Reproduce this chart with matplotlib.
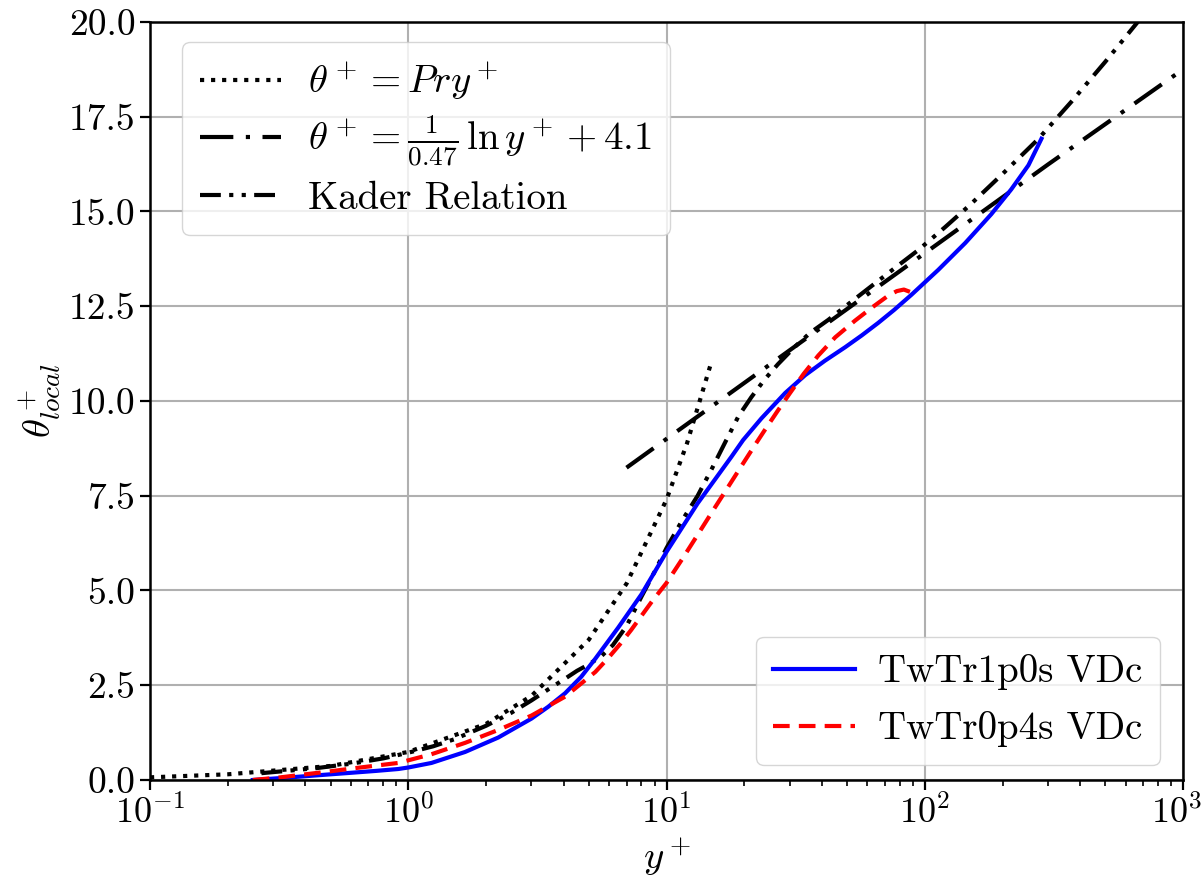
import matplotlib
matplotlib.use("Agg")
import matplotlib.pyplot as plt
import matplotlib.transforms as mtransforms

plt.rcParams['font.family'] = ['serif']
plt.rcParams['font.serif'] = ['cmr10', 'DejaVu Serif']
plt.rcParams['mathtext.fontset'] = 'cm'
plt.rcParams['axes.formatter.use_mathtext'] = True
plt.rcParams['axes.unicode_minus'] = False

# Pr y+ (linear sublayer)
lin_y = [0.1, 0.2, 0.5, 1.0, 2.0, 3.0, 5.0, 7.0, 10.0, 12.0, 14.8]
lin_t = [0.07, 0.15, 0.37, 0.74, 1.48, 2.22, 3.7, 5.18, 7.4, 8.88, 10.95]

# log law
log_y = [7.0, 10.0, 30.0, 100.0, 300.0, 1000.0]
log_t = [8.24, 9.0, 11.34, 13.9, 16.24, 18.75]

# Kader relation
kad_y = [0.27, 0.35, 0.45, 0.6, 0.8, 1.0, 1.25, 1.5, 2.0, 2.5, 3.0, 3.5, 4.0,
         4.5, 5.0, 5.6, 6.2, 7.0, 8.0, 9.0, 10.0, 11.5, 13.2, 15.0, 16.9,
         19.0, 21.3, 24.0, 27.0, 31.4, 36.0, 42.3, 50.0, 60.0, 74.3, 94.3,
         120.0, 150.0, 200.0, 274.0, 370.0, 500.0, 653.0, 700.0]
kad_t = [0.18, 0.25, 0.32, 0.43, 0.57, 0.72, 0.89, 1.07, 1.43, 1.77, 2.1,
         2.4, 2.65, 2.88, 3.05, 3.27, 3.56, 4.06, 4.84, 5.5, 6.12, 6.85, 7.5,
         8.22, 8.92, 9.6, 10.1, 10.57, 10.97, 11.43, 11.8, 12.14, 12.53, 12.95,
         13.44, 13.98, 14.59, 15.18, 15.99, 16.9, 17.9, 18.95, 19.92, 20.17]

# TwTr1p0s VDc
blue_y = [0.25, 0.32, 0.4, 0.5, 0.6, 0.75, 0.915, 1.0, 1.23, 1.66, 2.23, 3.0,
          3.48, 4.05, 4.67, 5.3, 6.5, 8.0, 10.0, 13.2, 17.8, 19.8, 23.3, 28.8,
          34.4, 41.0, 49.2, 57.0, 66.0, 76.0, 88.7, 112.8, 143.5, 181.0,
          216.0, 252.0, 283.0]
blue_t = [0.0, 0.05, 0.1, 0.15, 0.19, 0.24, 0.29, 0.33, 0.45, 0.74, 1.12,
          1.62, 1.93, 2.29, 2.72, 3.2, 4.02, 4.9, 6.02, 7.3, 8.52, 8.97, 9.54,
          10.21, 10.68, 11.06, 11.42, 11.73, 12.06, 12.4, 12.8, 13.46, 14.17,
          14.93, 15.58, 16.22, 16.92]

# TwTr0p4s VDc
red_y = [0.25, 0.32, 0.4, 0.5, 0.6, 0.75, 0.915, 1.23, 1.66, 2.23, 3.0, 4.05,
         5.3, 5.95, 6.6, 7.3, 7.8, 8.8, 10.0, 11.5, 13.2, 15.2, 17.8, 20.0,
         22.3, 24.0, 27.0, 30.0, 34.0, 38.7, 45.0, 53.7, 62.0, 72.2, 78.0,
         83.0, 87.6]
red_t = [0.0, 0.07, 0.15, 0.23, 0.3, 0.38, 0.45, 0.68, 0.98, 1.32, 1.7, 2.2,
         2.85, 3.22, 3.58, 3.96, 4.23, 4.72, 5.2, 5.83, 6.47, 7.13, 7.86, 8.4,
         8.9, 9.23, 9.75, 10.2, 10.72, 11.2, 11.68, 12.12, 12.45, 12.78, 12.9,
         12.94, 12.88]

fig = plt.figure(figsize=(12.03, 8.9), dpi=100)
ax = fig.add_axes([0.1247, 0.1236, 0.8587, 0.8517])

lw = 3.0
l1, = ax.plot(lin_y, lin_t, color='black', linestyle=':', lw=lw, label=r'$\theta^+ = Pry^+$')
l2, = ax.plot(log_y, log_t, color='black', lw=lw, dashes=(8, 3, 1, 3),
              label=r'$\theta^+ = \frac{1}{0.47}\,\ln y^+ + 4.1$')
l3, = ax.plot(kad_y, kad_t, color='black', lw=lw, dashes=(5, 2, 1, 2, 1, 2),
              label='Kader Relation')
b1, = ax.plot(blue_y, blue_t, color='blue', lw=lw, label='TwTr1p0s VDc')
r1, = ax.plot(red_y, red_t, color='red', lw=lw, linestyle=(0, (4, 2.2)), label='TwTr0p4s VDc')

ax.set_xscale('log')
ax.set_xlim(0.1, 1000)
ax.set_ylim(0, 20)
ax.set_yticks([0, 2.5, 5, 7.5, 10, 12.5, 15, 17.5, 20])
ax.set_yticklabels(['0.0', '2.5', '5.0', '7.5', '10.0', '12.5', '15.0', '17.5', '20.0'])
ax.grid(True, which='major', color='#b0b0b0', lw=1.5)
ax.tick_params(axis='y', which='major', labelsize=27)
ax.tick_params(axis='x', which='major', labelsize=26)
ax.tick_params(axis='both', which='major', length=7, width=1.6)
ax.tick_params(axis='both', which='minor', length=4, width=1.2)
for s in ax.spines.values():
    s.set_linewidth(1.8)

ax.set_xlabel(r'$y^+$', fontsize=28)
ax.set_ylabel(r'$\theta^+_{local}$', fontsize=28)

leg1 = ax.legend(handles=[l1, l2, l3], loc='upper left',
                 bbox_to_anchor=(0.031, 0.9736), borderaxespad=0.0,
                 fontsize=28, handlelength=2.1, framealpha=0.8, borderpad=0.45,
                 labelspacing=0.3, handletextpad=0.7)
ax.add_artist(leg1)
ax.legend(handles=[b1, r1], loc='lower right',
          bbox_to_anchor=(0.9777, 0.0198), borderaxespad=0.0,
          fontsize=28, handlelength=2.1, framealpha=0.8, borderpad=0.45,
          labelspacing=0.55, handletextpad=0.6)

# keep the last x tick label inside the canvas
fig.canvas.draw()
last = ax.get_xticklabels()[-1]
for lab in ax.get_xticklabels():
    if '3' in lab.get_text():
        lab.set_transform(lab.get_transform() +
                          mtransforms.ScaledTranslation(-6 / 100, 0, fig.dpi_scale_trans))

fig.savefig('out.png', dpi=100)
